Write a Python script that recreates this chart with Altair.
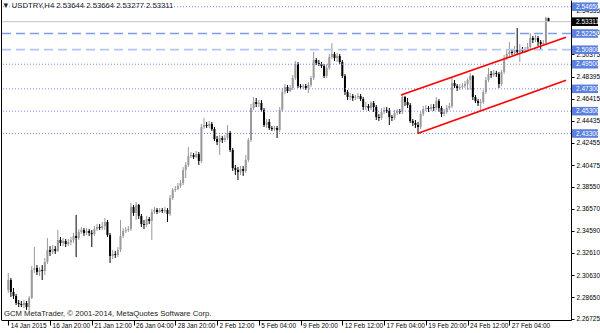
import json
import altair as alt
import pandas as pd

# ---------------- data ----------------
opens = [2.2930, 2.3019, 2.2912, 2.2876, 2.2813, 2.2804, 2.2795, 2.2813, 2.2777, 2.2858,
         2.3109, 2.3126, 2.3091, 2.3109, 2.3100, 2.3180, 2.3288, 2.3270, 2.3296, 2.3279,
         2.3377, 2.3350, 2.3368, 2.3341, 2.3359, 2.3377, 2.3413, 2.3395, 2.3449, 2.3467,
         2.3440, 2.3458, 2.3440, 2.3431, 2.3475, 2.3493, 2.3484, 2.3502, 2.3538, 2.3422,
         2.3234, 2.3252, 2.3243, 2.3288, 2.3413, 2.3458, 2.3467, 2.3475, 2.3672, 2.3619,
         2.3690, 2.3592, 2.3520, 2.3511, 2.3565, 2.3547, 2.3628, 2.3646, 2.3628, 2.3646,
         2.3637, 2.3646, 2.3610, 2.3753, 2.3825, 2.3833, 2.3860, 2.3887, 2.4004, 2.4048,
         2.4129, 2.4138, 2.4120, 2.4147, 2.4084, 2.4388, 2.4406, 2.4397, 2.4415, 2.4370,
         2.4281, 2.4254, 2.4290, 2.4272, 2.4290, 2.4335, 2.4183, 2.4021, 2.4004, 2.3986,
         2.4012, 2.3995, 2.4093, 2.4272, 2.4558, 2.4612, 2.4594, 2.4603, 2.4541, 2.4406,
         2.4433, 2.4379, 2.4370, 2.4379, 2.4362, 2.4541, 2.4702, 2.4746, 2.4711, 2.4737,
         2.4827, 2.4952, 2.4755, 2.4746, 2.4755, 2.4737, 2.4764, 2.4827, 2.4988, 2.4961,
         2.4952, 2.4934, 2.4845, 2.4916, 2.5015, 2.5042, 2.5006, 2.5024, 2.4970, 2.4845,
         2.4702, 2.4657, 2.4666, 2.4648, 2.4657, 2.4666, 2.4639, 2.4567, 2.4576, 2.4558,
         2.4603, 2.4567, 2.4478, 2.4469, 2.4523, 2.4541, 2.4532, 2.4478, 2.4469, 2.4514,
         2.4532, 2.4523, 2.4657, 2.4612, 2.4585, 2.4442, 2.4424, 2.4406, 2.4388, 2.4505,
         2.4549, 2.4558, 2.4549, 2.4567, 2.4558, 2.4621, 2.4558, 2.4505, 2.4523, 2.4558,
         2.4576, 2.4782, 2.4755, 2.4737, 2.4746, 2.4755, 2.4773, 2.4809, 2.4845, 2.4657,
         2.4621, 2.4603, 2.4612, 2.4702, 2.4809, 2.4863, 2.4854, 2.4872, 2.4863, 2.4773,
         2.4881, 2.5006, 2.5042, 2.5060, 2.5051, 2.5078, 2.5060, 2.5078, 2.5069, 2.5078,
         2.5104, 2.5185, 2.5167, 2.5185, 2.5149, 2.5131, 2.5140, 2.53644]

highs = [2.3082, 2.3037, 2.2947, 2.2894, 2.2840, 2.2831, 2.2840, 2.2831, 2.2876, 2.3144,
         2.3314, 2.3153, 2.3135, 2.3153, 2.3216, 2.3395, 2.3323, 2.3332, 2.3323, 2.3467,
         2.3404, 2.3395, 2.3386, 2.3386, 2.3404, 2.3440, 2.3601, 2.3475, 2.3493, 2.3484,
         2.3484, 2.3475, 2.3467, 2.3502, 2.3520, 2.3520, 2.3538, 2.3574, 2.3556, 2.3440,
         2.3288, 2.3279, 2.3314, 2.3556, 2.3484, 2.3493, 2.3502, 2.3708, 2.3690, 2.3717,
         2.3699, 2.3610, 2.3556, 2.3592, 2.3583, 2.3654, 2.3672, 2.3663, 2.3663, 2.3663,
         2.3672, 2.3663, 2.3780, 2.3842, 2.3860, 2.3887, 2.3914, 2.4030, 2.4075, 2.4209,
         2.4165, 2.4156, 2.4174, 2.4165, 2.4415, 2.4469, 2.4433, 2.4442, 2.4433, 2.4388,
         2.4308, 2.4317, 2.4308, 2.4317, 2.4406, 2.4353, 2.4200, 2.4048, 2.4030, 2.4039,
         2.4039, 2.4138, 2.4290, 2.4594, 2.4657, 2.4648, 2.4630, 2.4630, 2.4558, 2.4460,
         2.4460, 2.4397, 2.4397, 2.4397, 2.4567, 2.4737, 2.4773, 2.4764, 2.4764, 2.4854,
         2.4979, 2.4970, 2.4773, 2.4773, 2.4773, 2.4791, 2.4845, 2.5060, 2.5006, 2.4988,
         2.4970, 2.4952, 2.4952, 2.5042, 2.5140, 2.5060, 2.5051, 2.5042, 2.4988, 2.4863,
         2.4720, 2.4693, 2.4684, 2.4675, 2.4693, 2.4684, 2.4657, 2.4612, 2.4594, 2.4621,
         2.4621, 2.4585, 2.4505, 2.4558, 2.4567, 2.4567, 2.4558, 2.4496, 2.4541, 2.4549,
         2.4549, 2.4675, 2.4666, 2.4648, 2.4603, 2.4460, 2.4451, 2.4433, 2.4523, 2.4576,
         2.4585, 2.4576, 2.4594, 2.4594, 2.4657, 2.4639, 2.4576, 2.4549, 2.4585, 2.4603,
         2.4836, 2.4809, 2.4773, 2.4773, 2.4782, 2.4800, 2.4827, 2.4872, 2.4854, 2.4675,
         2.4639, 2.4639, 2.4720, 2.4836, 2.4916, 2.4890, 2.4899, 2.4890, 2.4881, 2.4899,
         2.5033, 2.5078, 2.5149, 2.5086, 2.5113, 2.5274, 2.5131, 2.5104, 2.5104, 2.5140,
         2.5230, 2.5203, 2.5212, 2.5203, 2.5167, 2.5167, 2.5373, 2.53664]

lows = [2.2903, 2.2867, 2.2849, 2.2795, 2.2777, 2.2777, 2.2768, 2.2751, 2.2742, 2.2849,
        2.3082, 2.3064, 2.3055, 2.3019, 2.3064, 2.3162, 2.3234, 2.3252, 2.3252, 2.3270,
        2.3323, 2.3323, 2.3314, 2.3323, 2.3332, 2.3350, 2.3225, 2.3377, 2.3431, 2.3413,
        2.3422, 2.3413, 2.3314, 2.3413, 2.3458, 2.3467, 2.3467, 2.3467, 2.3404, 2.3171,
        2.3207, 2.3216, 2.3225, 2.3270, 2.3395, 2.3440, 2.3449, 2.3458, 2.3592, 2.3556,
        2.3565, 2.3493, 2.3475, 2.3493, 2.3520, 2.3377, 2.3610, 2.3610, 2.3619, 2.3619,
        2.3619, 2.3538, 2.3592, 2.3735, 2.3807, 2.3825, 2.3842, 2.3869, 2.3932, 2.4030,
        2.4111, 2.4102, 2.4111, 2.4048, 2.4066, 2.4370, 2.4379, 2.4379, 2.4353, 2.4263,
        2.4227, 2.4138, 2.4245, 2.4254, 2.4272, 2.4165, 2.3995, 2.3959, 2.3914, 2.3959,
        2.3950, 2.3977, 2.4075, 2.4254, 2.4541, 2.4567, 2.4567, 2.4523, 2.4388, 2.4379,
        2.4362, 2.4353, 2.4353, 2.4290, 2.4344, 2.4523, 2.4684, 2.4693, 2.4702, 2.4720,
        2.4809, 2.4737, 2.4728, 2.4728, 2.4720, 2.4693, 2.4746, 2.4809, 2.4943, 2.4934,
        2.4916, 2.4827, 2.4827, 2.4899, 2.4997, 2.4979, 2.4970, 2.4952, 2.4827, 2.4675,
        2.4630, 2.4630, 2.4621, 2.4630, 2.4639, 2.4621, 2.4541, 2.4541, 2.4532, 2.4541,
        2.4523, 2.4451, 2.4442, 2.4451, 2.4505, 2.4514, 2.4406, 2.4442, 2.4451, 2.4496,
        2.4505, 2.4505, 2.4576, 2.4558, 2.4424, 2.4397, 2.4379, 2.4330, 2.4370, 2.4487,
        2.4532, 2.4523, 2.4532, 2.4532, 2.4541, 2.4523, 2.4478, 2.4487, 2.4505, 2.4541,
        2.4558, 2.4737, 2.4711, 2.4720, 2.4728, 2.4737, 2.4720, 2.4720, 2.4630, 2.4603,
        2.4576, 2.4541, 2.4594, 2.4684, 2.4791, 2.4827, 2.4836, 2.4836, 2.4737, 2.4755,
        2.4863, 2.4988, 2.5024, 2.5033, 2.5033, 2.5042, 2.4970, 2.5051, 2.5051, 2.5060,
        2.5086, 2.5140, 2.5149, 2.5113, 2.5078, 2.5113, 2.5122, 2.53277]

closes = [2.3019, 2.2912, 2.2876, 2.2813, 2.2804, 2.2795, 2.2813, 2.2777, 2.2858, 2.3109,
          2.3126, 2.3091, 2.3109, 2.3100, 2.3180, 2.3288, 2.3270, 2.3296, 2.3279, 2.3377,
          2.3350, 2.3368, 2.3341, 2.3359, 2.3377, 2.3413, 2.3395, 2.3449, 2.3467, 2.3440,
          2.3458, 2.3440, 2.3431, 2.3475, 2.3493, 2.3484, 2.3502, 2.3538, 2.3422, 2.3234,
          2.3252, 2.3243, 2.3288, 2.3413, 2.3458, 2.3467, 2.3475, 2.3672, 2.3619, 2.3690,
          2.3592, 2.3520, 2.3511, 2.3565, 2.3547, 2.3628, 2.3646, 2.3628, 2.3646, 2.3637,
          2.3646, 2.3610, 2.3753, 2.3825, 2.3833, 2.3860, 2.3887, 2.4004, 2.4048, 2.4129,
          2.4138, 2.4120, 2.4147, 2.4084, 2.4388, 2.4406, 2.4397, 2.4415, 2.4370, 2.4281,
          2.4254, 2.4290, 2.4272, 2.4290, 2.4335, 2.4183, 2.4021, 2.4004, 2.3986, 2.4012,
          2.3995, 2.4093, 2.4272, 2.4558, 2.4612, 2.4594, 2.4603, 2.4541, 2.4406, 2.4433,
          2.4379, 2.4370, 2.4379, 2.4362, 2.4541, 2.4702, 2.4746, 2.4711, 2.4737, 2.4827,
          2.4952, 2.4755, 2.4746, 2.4755, 2.4737, 2.4764, 2.4827, 2.4988, 2.4961, 2.4952,
          2.4934, 2.4845, 2.4916, 2.5015, 2.5042, 2.5006, 2.5024, 2.4970, 2.4845, 2.4702,
          2.4657, 2.4666, 2.4648, 2.4657, 2.4666, 2.4639, 2.4567, 2.4576, 2.4558, 2.4603,
          2.4567, 2.4478, 2.4469, 2.4523, 2.4541, 2.4532, 2.4478, 2.4469, 2.4514, 2.4532,
          2.4523, 2.4657, 2.4612, 2.4585, 2.4442, 2.4424, 2.4406, 2.4388, 2.4505, 2.4549,
          2.4558, 2.4549, 2.4567, 2.4558, 2.4621, 2.4558, 2.4505, 2.4523, 2.4558, 2.4576,
          2.4782, 2.4755, 2.4737, 2.4746, 2.4755, 2.4773, 2.4809, 2.4845, 2.4657, 2.4621,
          2.4603, 2.4612, 2.4702, 2.4809, 2.4863, 2.4854, 2.4872, 2.4863, 2.4773, 2.4881,
          2.5006, 2.5042, 2.5060, 2.5051, 2.5078, 2.5060, 2.5078, 2.5069, 2.5078, 2.5104,
          2.5185, 2.5167, 2.5185, 2.5149, 2.5131, 2.5140, 2.5364, 2.53311]

tick_positions = [0, 16, 32, 48, 64, 80, 96, 112, 128, 144, 160, 176, 192]
tick_dates = ["14 Jan 2015", "16 Jan 20:00", "21 Jan 12:00", "26 Jan 04:00",
              "28 Jan 20:00", "2 Feb 12:00", "5 Feb 04:00", "9 Feb 20:00",
              "12 Feb 12:00", "17 Feb 04:00", "19 Feb 20:00", "24 Feb 12:00",
              "27 Feb 04:00"]
price_ticks = [2.26725, 2.28650, 2.30630, 2.32610, 2.34590, 2.36570, 2.38550,
               2.40475, 2.42455, 2.44435, 2.46415, 2.48395, 2.50375, 2.52355, 2.54335]

dotted_levels = [2.5465, 2.4950, 2.4730, 2.4530, 2.4330]
dashed_level_dark = [2.5225]
dashed_level_light = [2.5080]
box_levels = [2.5465, 2.5225, 2.5080, 2.4950, 2.4730, 2.4530, 2.4330]
bid_price = [2.53311]

upper_channel_bar = [150.5, 213.7]
upper_channel_price = [2.4675, 2.5191]
lower_channel_bar = [156.8, 213.7]
lower_channel_price = [2.4330, 2.4806]

title_text = ["\u25bc USDTRY,H4  2.53644 2.53664 2.53277 2.53311"]
copyright_text = ["GCM MetaTrader, \u00a9 2001-2014, MetaQuotes Software Corp."]

# ---------------- chart ----------------
FONT = "Liberation Sans"
candles = pd.DataFrame({"i": list(range(len(closes))), "open": opens, "high": highs,
                        "low": lows, "close": closes})

xscale = alt.Scale(domain=[-0.87, 213.7], nice=False, zero=False)
yscale = alt.Scale(domain=[2.2661, 2.5525], nice=False, zero=False)

label_expr = json.dumps(tick_dates) + "[round(datum.value / 16)]"
xaxis = alt.Axis(values=tick_positions, labelExpr=label_expr, labelAlign="left",
                 labelOffset=2, tickSize=5, labelPadding=-3, labelBaseline="top",
                 labelFontSize=6.5, labelFont=FONT, labelColor="black",
                 domainColor="black", tickColor="black", grid=False, title=None,
                 labelFlush=False, labelOverlap=False, zindex=0)
yaxis = alt.Axis(orient="right", values=price_ticks, format=".5f", tickSize=3,
                 labelPadding=2, labelFontSize=6.5, labelFont=FONT, labelColor="black",
                 domainColor="black", tickColor="black", grid=False, title=None,
                 labelFlush=False, labelOverlap=False, zindex=0)


def X(field):
    return alt.X(field, scale=xscale, axis=xaxis)


def Y(field):
    return alt.Y(field, scale=yscale, axis=yaxis)


color_cond = alt.condition("datum.close >= datum.open", alt.value("#9a9a9a"), alt.value("#000000"))

wicks = alt.Chart(candles).mark_rule(strokeWidth=1, clip=True).encode(
    x=X("i:Q"), y=Y("low:Q"), y2="high:Q", color=color_cond,
)
bodies = alt.Chart(candles).mark_bar(size=2, clip=True).encode(
    x=X("i:Q"), y=Y("open:Q"), y2="close:Q", color=color_cond,
)


def hlines(levels, color, dash, width):
    return alt.Chart(pd.DataFrame({"level": levels})).mark_rule(
        color=color, strokeDash=dash, strokeWidth=width, clip=True
    ).encode(y=Y("level:Q"))


dotted = hlines(dotted_levels, "#6f8be8", [1, 2], 1)
dash_dark = hlines(dashed_level_dark, "#7f9bee", [9, 5], 1.6)
dash_light = hlines(dashed_level_light, "#b4c6f6", [9, 5], 1.8)
bid_line = hlines(bid_price, "#c4c4c4", [1, 0], 1)


def channel(bars, prices):
    return alt.Chart(pd.DataFrame({"i": bars, "p": prices})).mark_line(
        color="#ff0000", strokeWidth=1.6, clip=True
    ).encode(x=X("i:Q"), y=Y("p:Q"))


upper = channel(upper_channel_bar, upper_channel_price)
lower = channel(lower_channel_bar, lower_channel_price)

box_shape = "M-1,-0.33L1,-0.33L1,0.33L-1,0.33Z"


def price_box(levels, color):
    df = pd.DataFrame({"level": levels})
    box = alt.Chart(df).mark_point(
        shape=box_shape, size=676, filled=True, opacity=1, color=color, strokeWidth=0
    ).encode(x=alt.value(584), y=Y("level:Q"))
    txt = alt.Chart(df).mark_text(
        align="left", baseline="middle", fontSize=6.5, font=FONT, color="white"
    ).encode(x=alt.value(575), y=Y("level:Q"), text=alt.Text("level:Q", format=".5f"))
    return box + txt


boxes = price_box(box_levels, "#5a80e0")
bid_box = price_box(bid_price, "#000000")

title = alt.Chart(pd.DataFrame({"t": title_text})).mark_text(
    align="left", baseline="middle", fontSize=7.7, font=FONT, color="#222222"
).encode(x=alt.value(1), y=alt.value(6), text="t:N")
copyright_mark = alt.Chart(pd.DataFrame({"t": copyright_text})).mark_text(
    align="left", baseline="middle", fontSize=7.7, font=FONT, color="#222222"
).encode(x=alt.value(3), y=alt.value(314), text="t:N")

left_border = alt.Chart(pd.DataFrame({"t": [0]})).mark_rule(color="black", strokeWidth=1).encode(
    x=alt.value(0.5), y=alt.value(0), y2=alt.value(320))

chart = alt.layer(
    wicks, bodies,
    dotted, dash_dark, dash_light, bid_line,
    upper, lower,
    boxes, bid_box,
    title, copyright_mark, left_border,
).properties(
    width=570, height=320,
    padding={"left": 1, "top": 0, "right": 29, "bottom": 13},
    autosize=alt.AutoSizeParams(type="none"),
    background="white",
).configure_view(stroke=None)

chart.save("out.html", embed_options={"renderer": "svg", "actions": False})
